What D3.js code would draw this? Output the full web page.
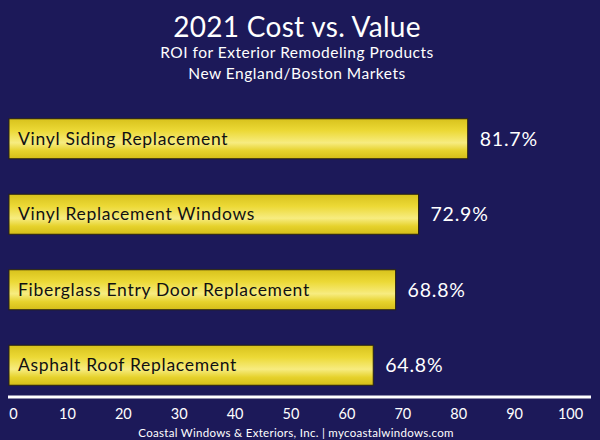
<!DOCTYPE html>
<html><head><meta charset="utf-8">
<script src="https://cdn.jsdelivr.net/npm/d3@7"></script>
<style>body{margin:0;background:#1c1959;}svg{display:block;}</style>
</head><body>
<script>
const categories = ["Vinyl Siding Replacement","Vinyl Replacement Windows","Fiberglass Entry Door Replacement","Asphalt Roof Replacement"];
const values = [81.7, 72.9, 68.8, 64.8];
const tickValues = [0,10,20,30,40,50,60,70,80,90,100];
const title = "2021 Cost vs. Value";
const subtitles = ["ROI for Exterior Remodeling Products","New England/Boston Markets"];
const footer = "Coastal Windows & Exteriors, Inc.  | mycoastalwindows.com";

const W=600,H=440;
const font = "Lato, 'Open Sans', sans-serif";
const svg=d3.select("body").append("svg").attr("width",W).attr("height",H);
svg.append("rect").attr("width",W).attr("height",H).attr("fill","#1c1959");

const defs=svg.append("defs");
const g=defs.append("linearGradient").attr("id","yg").attr("x1",0).attr("y1",0).attr("x2",0).attr("y2",1);
[[0,"#d8c21c"],[0.3,"#ecd936"],[0.6,"#f7ec80"],[0.8,"#e6d22c"],[1,"#d4bd18"]].forEach(([o,c])=>g.append("stop").attr("offset",o).attr("stop-color",c));

const x=d3.scaleLinear().domain([0,100]).range([11,570]);
const y=d3.scaleBand().domain(categories).range([101,403]).paddingInner(0.47).paddingOuter(0.235);

svg.append("text").attr("x",297).attr("y",37).attr("text-anchor","middle").attr("fill","#fff")
  .style("font-family",font).style("font-size","28px").style("letter-spacing","0.3px").text(title);
subtitles.forEach((s,i)=>svg.append("text").attr("x",297).attr("y",58+i*21).attr("text-anchor","middle")
  .attr("fill","#fff").style("font-family",font).style("font-size","15.5px").style("letter-spacing","0.5px").text(s));

const data=categories.map((c,i)=>({c,v:values[i]}));
svg.selectAll(".bar").data(data).join("rect").attr("class","bar")
  .attr("x",9).attr("y",d=>y(d.c)).attr("width",d=>x(d.v)-9).attr("height",y.bandwidth())
  .attr("fill","url(#yg)").attr("stroke","#2a2410").attr("stroke-width",1);
svg.selectAll(".lab").data(data).join("text").attr("class","lab")
  .attr("x",18).attr("y",d=>y(d.c)+y.bandwidth()/2+6).attr("fill","#111")
  .style("font-family",font).style("font-size","17.5px").style("letter-spacing","0.7px").text(d=>d.c);
svg.selectAll(".val").data(data).join("text").attr("class","val")
  .attr("x",d=>x(d.v)+12).attr("y",d=>y(d.c)+y.bandwidth()/2+7).attr("fill","#fff")
  .style("font-family",font).style("font-size","19.5px").style("letter-spacing","0.8px").text(d=>d.v.toFixed(1)+"%");

const axis=d3.axisBottom(x).tickValues(tickValues).tickSize(0).tickPadding(12);
const ag=svg.append("g").attr("transform","translate(0,397)").call(axis);
ag.select(".domain").remove();
ag.append("line").attr("x1",8).attr("x2",591).attr("stroke","#fff").attr("stroke-width",3);
ag.selectAll(".tick text").attr("fill","#fff").style("font-family",font).style("font-size","14.5px");
ag.selectAll(".tick text").filter(d=>d===0).attr("dx",2);

svg.append("text").attr("x",296).attr("y",437).attr("text-anchor","middle").attr("fill","#fff")
  .style("font-family",font).style("font-size","11.5px").style("letter-spacing","0.3px").text(footer);
</script>
</body></html>
